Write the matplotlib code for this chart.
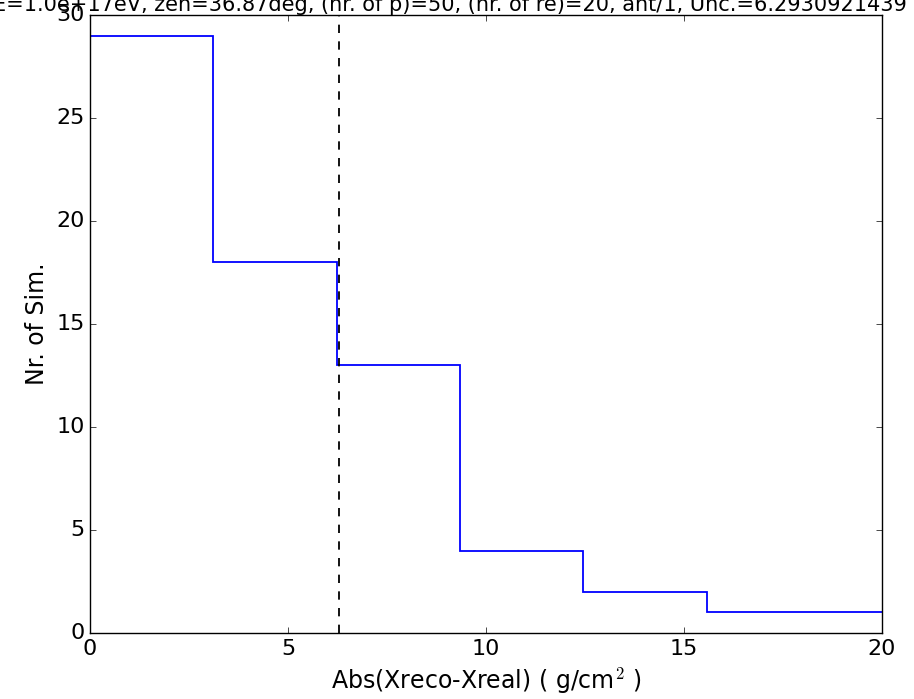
import matplotlib
matplotlib.use("Agg")
import matplotlib.pyplot as plt

# Histogram of reconstruction error
bin_edges = [0.0, 3.115, 6.23, 9.345, 12.46, 15.575, 18.69, 21.805]
counts = [29, 18, 13, 4, 2, 1, 1]
uncertainty = 6.2930921439
title = "E=1.0e+17eV, zen=36.87deg, (nr. of p)=50, (nr. of re)=20, ant/1, Unc.=6.2930921439 g/cm2"

plt.style.use("classic")
fig = plt.figure(figsize=(9.14, 6.99), dpi=100)
ax = fig.add_axes([90 / 914, 1 - 633 / 699, 792 / 914, 618 / 699])

ax.hist(bin_edges[:-1], bins=bin_edges, weights=counts, histtype="step", color="b", linewidth=1.3)
ax.axvline(uncertainty, color="k", linestyle="--", linewidth=1.3)

ax.set_xlim(0, 20)
ax.set_ylim(0, 30)
ax.set_xticks([0, 5, 10, 15, 20])
ax.set_yticks([0, 5, 10, 15, 20, 25, 30])
ax.tick_params(labelsize=16)
ax.set_xlabel("Abs(Xreco-Xreal) ( g/cm$^2$ )", fontsize=17)
ax.set_ylabel("Nr. of Sim.", fontsize=17)
ax.set_title(title, fontsize=15, pad=3)

fig.savefig("out.png", dpi=100)
